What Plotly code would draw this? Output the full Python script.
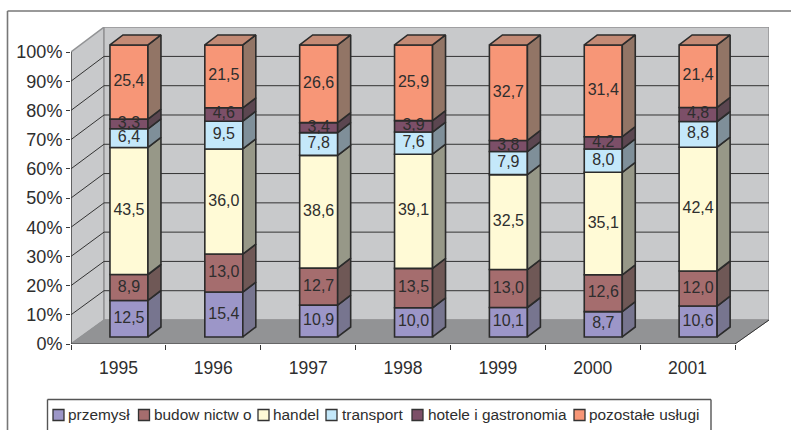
import plotly.graph_objects as go

YEARS = ["1995", "1996", "1997", "1998", "1999", "2000", "2001"]
SERIES_NAMES = ["przemysł", "budow nictw o", "handel", "transport", "hotele i gastronomia", "pozostałe usługi"]
PRZEMYSL = [12.5, 15.4, 10.9, 10.0, 10.1, 8.7, 10.6]
BUDOWNICTWO = [8.9, 13.0, 12.7, 13.5, 13.0, 12.6, 12.0]
HANDEL = [43.5, 36.0, 38.6, 39.1, 32.5, 35.1, 42.4]
TRANSPORT = [6.4, 9.5, 7.8, 7.6, 7.9, 8.0, 8.8]
HOTELE = [3.3, 4.6, 3.4, 3.9, 3.8, 4.2, 4.8]
POZOSTALE = [25.4, 21.5, 26.6, 25.9, 32.7, 31.4, 21.4]
SERIES = [PRZEMYSL, BUDOWNICTWO, HANDEL, TRANSPORT, HOTELE, POZOSTALE]
FRONT_COLORS = ["#9c96c8", "#a56d6e", "#fffad6", "#c4e8fa", "#7c4f68", "#f79677"]
SIDE_COLORS = ["#77758f", "#6f5856", "#979888", "#7f8f99", "#5b4650", "#927566"]
TOP_COLOR = "#c38a75"
Y_TICKS = list(range(0, 101, 10))

W, H = 791, 430
X0, X1, Y0, Y1 = 71, 769, 344, 27
PX_X, PX_Y = 94.86, 2.92
XR = (X1 - X0) / PX_X
YR = (Y0 - Y1) / PX_Y
WALL_DX = 33 / PX_X
WALL_DY = 24 / PX_Y
WALL_S = 1.003
BAR_DX = 13 / PX_X
BAR_DY = 10 / PX_Y
BAR_W = 38 / PX_X
BAR_OFF = 0.611
BASE = 2.4
INK = "#2b2b2b"
TXT = "#2e2e2e"
FONT = "Liberation Sans"


def px(x):
    return x / W


def py(y):
    return 1 - y / H


fig = go.Figure()
shapes = []
annos = []


def path(points):
    return "M " + " L ".join(f"{a},{b}" for a, b in points) + " Z"


# walls and floor
top = 100 * WALL_S + WALL_DY
shapes.append(dict(type="path", layer="below", xref="x", yref="y",
                   path=path([(0, 0), (0, 100), (WALL_DX, top), (WALL_DX, WALL_DY)]),
                   fillcolor="#c8c9cb", line=dict(color="#929395", width=1.5)))
shapes.append(dict(type="path", layer="below", xref="x", yref="y",
                   path=path([(WALL_DX, WALL_DY), (WALL_DX, top), (XR, top), (XR, WALL_DY)]),
                   fillcolor="#c8c9cb", line=dict(color="#929395", width=1.5)))
shapes.append(dict(type="path", layer="below", xref="x", yref="y",
                   path=path([(0, 0), (WALL_DX, WALL_DY), (XR, WALL_DY), (len(YEARS), 0)]),
                   fillcolor="#929395", line=dict(color="#929395", width=1)))
shapes.append(dict(type="line", layer="below", xref="x", yref="y", x0=len(YEARS), y0=0, x1=XR, y1=WALL_DY,
                   line=dict(color="#333333", width=1)))
for t in Y_TICKS[1:-1]:
    yb = t * WALL_S + WALL_DY
    shapes.append(dict(type="line", layer="below", xref="x", yref="y", x0=0, y0=t, x1=WALL_DX, y1=yb,
                       line=dict(color="#333333", width=1)))
    shapes.append(dict(type="line", layer="below", xref="x", yref="y", x0=WALL_DX, y0=yb, x1=XR, y1=yb,
                       line=dict(color="#333333", width=1)))

centers = [i + 0.5 for i in range(len(YEARS))]
xs = [i + BAR_OFF for i in range(len(YEARS))]

# bars
cum = [BASE] * len(YEARS)
lab_x, lab_y, lab_t = [], [], []
for name, vals, fc, sc in zip(SERIES_NAMES, SERIES, FRONT_COLORS, SIDE_COLORS):
    bases = list(cum)
    fig.add_trace(go.Bar(
        x=xs, y=vals, base=bases, width=BAR_W, name=name, showlegend=False,
        marker=dict(color=fc, line=dict(color=INK, width=1.6)),
        hoverinfo="skip",
    ))
    sx, sy = [], []
    for x, b, v in zip(xs, bases, vals):
        r = x + BAR_W / 2
        sx += [r, r + BAR_DX, r + BAR_DX, r, r, None]
        sy += [b, b + BAR_DY, b + v + BAR_DY, b + v, b, None]
        lab_x.append(x)
        lab_y.append(b + v / 2)
        lab_t.append(f"{v:.1f}".replace(".", ","))
    fig.add_trace(go.Scatter(x=sx, y=sy, mode="lines", fill="toself", fillcolor=sc,
                             line=dict(color=INK, width=1.6), showlegend=False, hoverinfo="skip"))
    cum = [b + v for b, v in zip(bases, vals)]

# top faces
tx, ty = [], []
for x, c in zip(xs, cum):
    l, r = x - BAR_W / 2, x + BAR_W / 2
    tx += [l, l + BAR_DX, r + BAR_DX, r, l, None]
    ty += [c, c + BAR_DY, c + BAR_DY, c, c, None]
fig.add_trace(go.Scatter(x=tx, y=ty, mode="lines", fill="toself", fillcolor=TOP_COLOR,
                         line=dict(color=INK, width=1.6), showlegend=False, hoverinfo="skip"))

# value labels
fig.add_trace(go.Scatter(x=lab_x, y=lab_y, text=lab_t, mode="text", textposition="middle center",
                         textfont=dict(family=FONT, size=16, color=TXT), showlegend=False, hoverinfo="skip"))

# axis lines
fig.add_trace(go.Scatter(x=[0, 0, len(YEARS)], y=[100, 0, 0], mode="lines", cliponaxis=False,
                         line=dict(color="#3a3a3a", width=1.2), showlegend=False, hoverinfo="skip"))

# outer frame
shapes.append(dict(type="line", xref="paper", yref="paper", x0=px(7.5), x1=1, y0=py(11), y1=py(11),
                   line=dict(color="#777777", width=1.6)))
shapes.append(dict(type="line", xref="paper", yref="paper", x0=px(7.5), x1=px(7.5), y0=py(11), y1=0,
                   line=dict(color="#777777", width=1.6)))

# legend box
for a, b, c, d in [(47.5, 399.5, 711, 399.5), (47.5, 399.5, 47.5, 430), (711, 399.5, 711, 430)]:
    shapes.append(dict(type="line", xref="paper", yref="paper", x0=px(a), x1=px(c), y0=py(b), y1=py(d),
                       line=dict(color="#555555", width=1.4)))
LEG_SW = [53, 138.5, 258, 326, 412, 574]
LEG_TX = [68, 154, 273, 342, 428, 589]
for name, fc, sx_, tx_ in zip(SERIES_NAMES, FRONT_COLORS, LEG_SW, LEG_TX):
    shapes.append(dict(type="rect", xref="paper", yref="paper", x0=px(sx_), x1=px(sx_ + 11), y0=py(409.5), y1=py(420.5),
                       fillcolor=fc, line=dict(color="#333333", width=1.3)))
    annos.append(dict(xref="paper", yref="paper", x=px(tx_ - 2.5), y=py(414.5), text=name, showarrow=False,
                      xanchor="left", yanchor="middle", font=dict(family=FONT, size=15.4, color=TXT)))

fig.update_layout(
    width=W, height=H, margin=dict(l=0, r=0, t=0, b=0), autosize=False,
    paper_bgcolor="white", plot_bgcolor="rgba(0,0,0,0)", barmode="overlay",
    showlegend=False, shapes=shapes, annotations=annos,
    font=dict(family=FONT, color=TXT),
    xaxis=dict(domain=[px(X0), px(X1)], range=[0, XR], showgrid=False, zeroline=False, showline=False,
               automargin=False,
               tickmode="array", tickvals=centers, ticktext=YEARS, ticks="", ticklabelstandoff=11,
               tickfont=dict(family=FONT, size=17.5, color=TXT),
               minor=dict(tickmode="array", tickvals=list(range(len(YEARS) + 1)), ticks="outside",
                          ticklen=5, tickcolor="#3a3a3a", tickwidth=1, showgrid=False)),
    yaxis=dict(domain=[py(Y0), py(Y1)], range=[0, YR], showgrid=False, zeroline=False, showline=False,
               automargin=False,
               tickmode="array", tickvals=Y_TICKS, ticktext=[f"{t}%" for t in Y_TICKS], ticks="outside",
               ticklen=4, tickcolor="#3a3a3a", tickwidth=1,
               tickfont=dict(family=FONT, size=18, color=TXT)),
)
fig.write_html("out.html", config={"displayModeBar": False},
               post_script="document.body.style.margin='0';document.documentElement.style.overflow='hidden';")
